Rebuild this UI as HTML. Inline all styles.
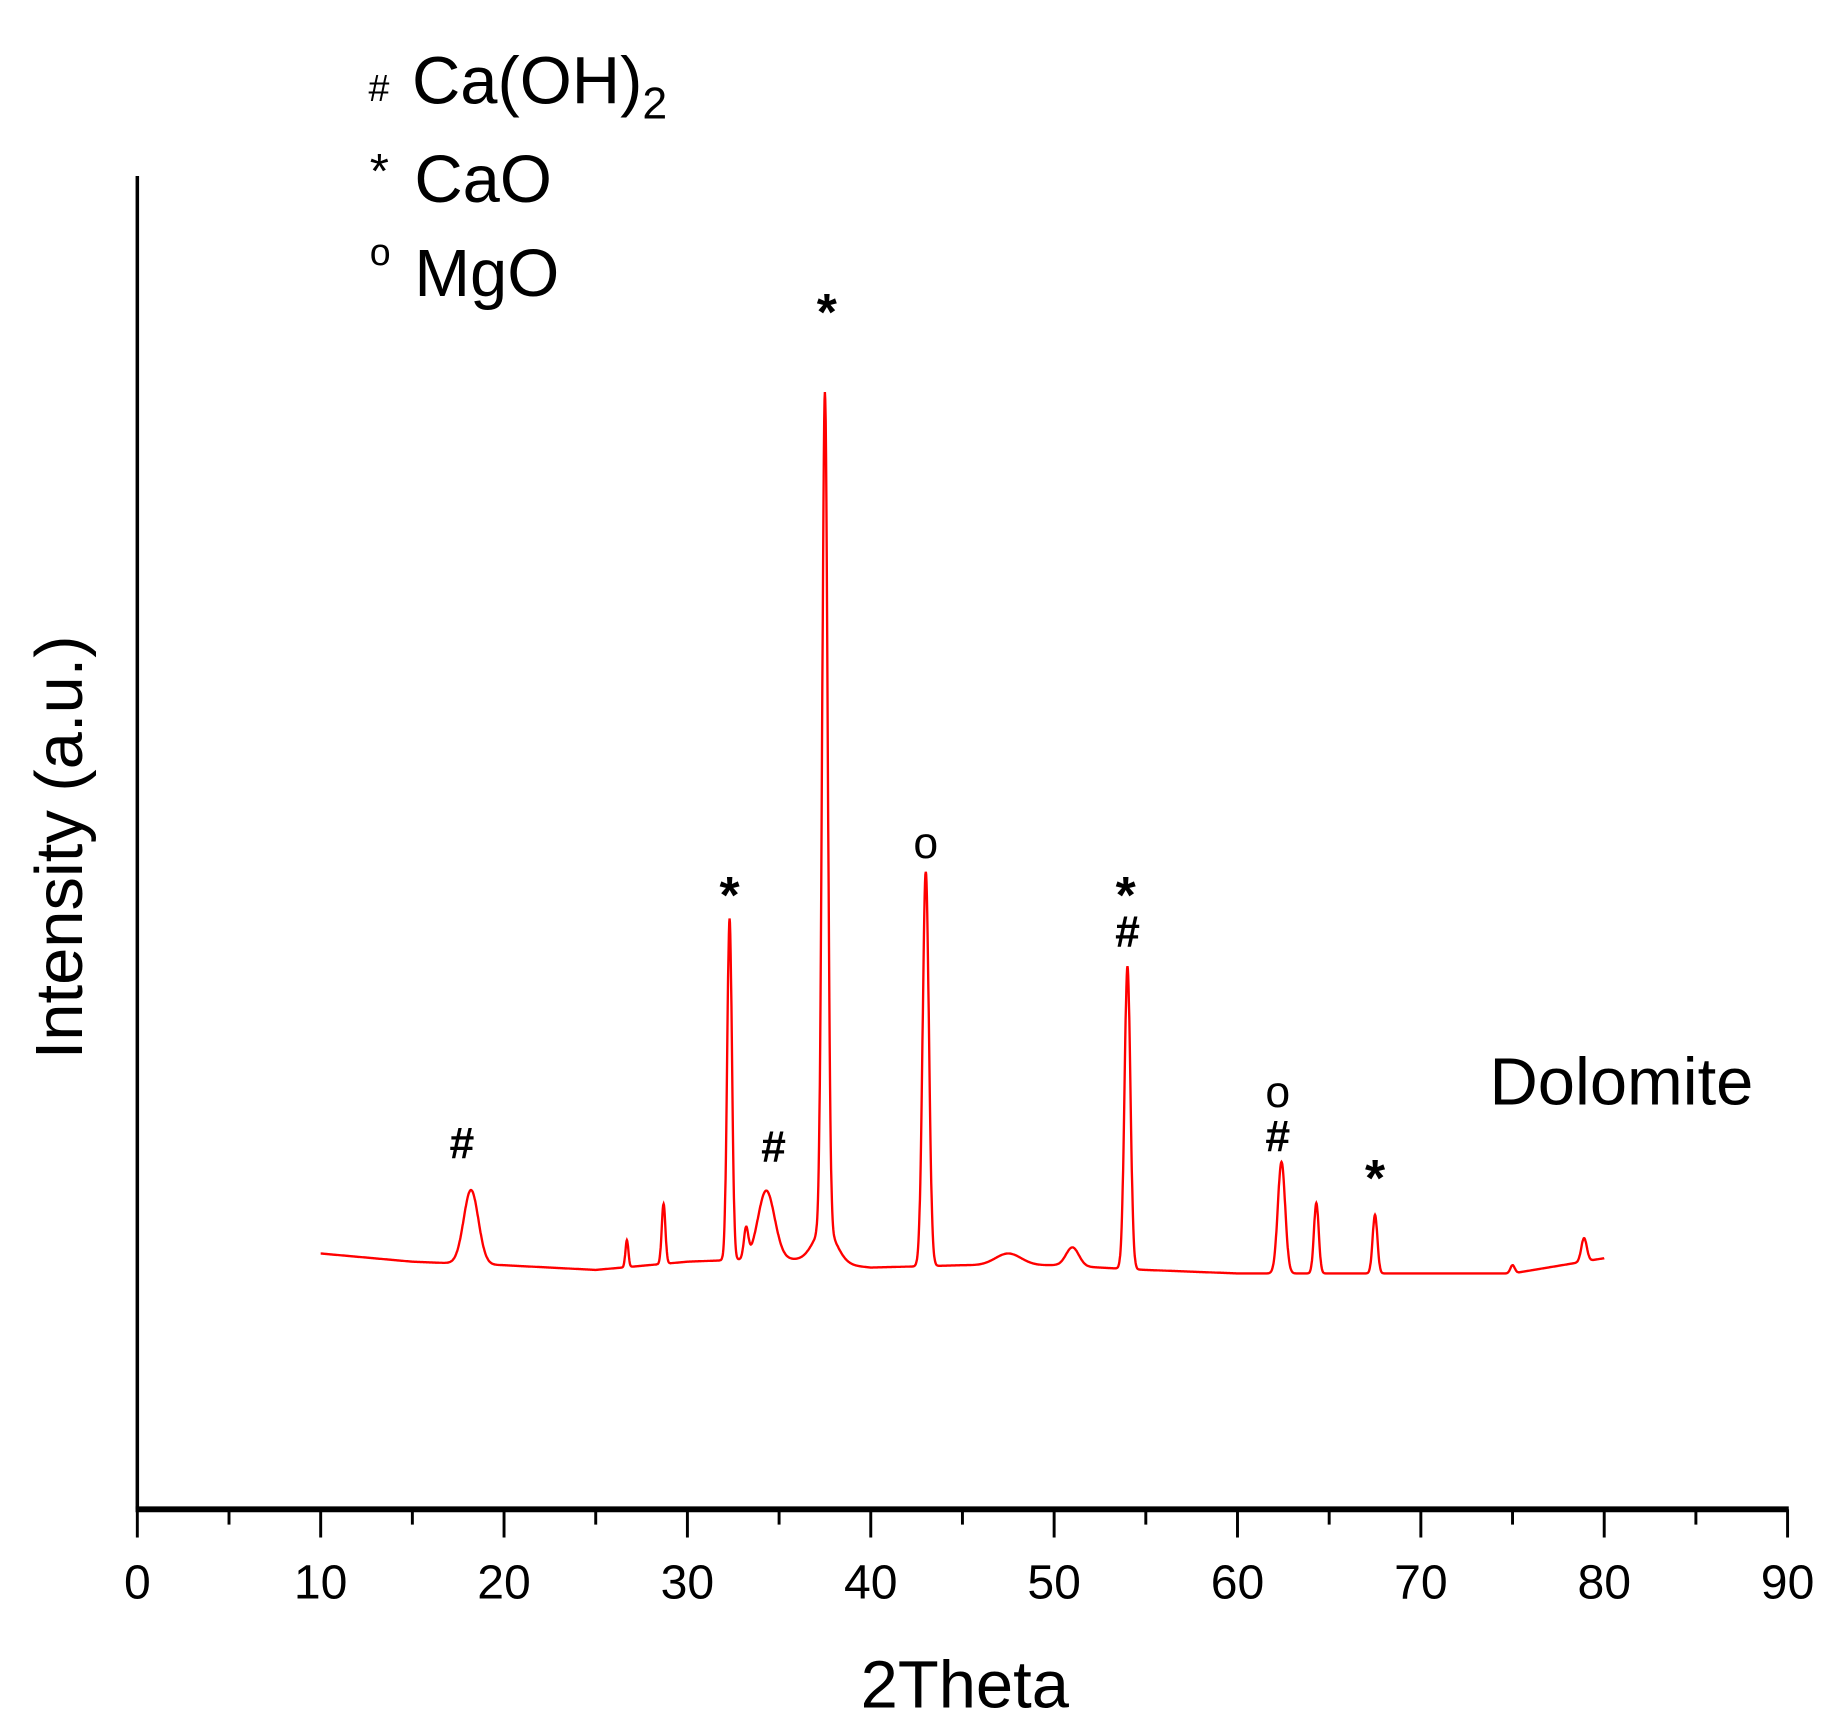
<!DOCTYPE html>
<html><head><meta charset="utf-8"><style>html,body{margin:0;padding:0;background:#fff}svg{display:block}</style></head>
<body>
<svg id="chart" width="1831" height="1730" viewBox="0 0 1560 1474" preserveAspectRatio="none" xmlns="http://www.w3.org/2000/svg" font-family="Liberation Sans, Arial, sans-serif">
<g id="axes"></g>
<path id="series" fill="none" stroke="#ff0000" stroke-width="2"/>
<g id="ann"></g>
<g fill="#000">
 <text x="314" y="86" font-size="32">#</text>
 <text x="351" y="88" font-size="57">Ca(OH)<tspan font-size="38" dy="13">2</tspan></text>
 <text x="315" y="160" font-size="42">*</text>
 <text x="353" y="172" font-size="57">CaO</text>
 <text x="315" y="226" font-size="32">o</text>
 <text x="353" y="252" font-size="57">MgO</text>
</g>
<text x="1269" y="941" font-size="57">Dolomite</text>
<text x="822" y="1455" font-size="57" text-anchor="middle">2Theta</text>
<text transform="translate(70,722) rotate(-90)" font-size="57" text-anchor="middle">Intensity (a.u.)</text>
</svg>
<script>
const xTicks=[0,10,20,30,40,50,60,70,80,90];
const baseX=[10,15,20,25,30,35,40,45,50,55,60,65,70,75,80];
const baseV=[218,211,208,204,211,214,206,208,208,204,201,201,201,201,214];
const peakPos=[18.2,26.7,28.7,32.3,33.2,34.3,37.5,37.5,43.0,47.5,51.0,54.0,62.4,64.3,67.5,75.0,78.9];
const peakH=[63,23,51,291,25,58,712,30,336,10,16,258,95,60,50,7,20];
const peakW=[0.4,0.08,0.1,0.13,0.12,0.45,0.15,0.6,0.17,0.7,0.35,0.16,0.2,0.13,0.13,0.12,0.15];
const annText=['*','*','#','#','o','*','#','o','#','*'];
const annX=[37.6,32.3,34.7,17.7,43.0,53.9,54.0,62.2,62.2,67.5];
const annV=[1032,535,310,313,569,535,493,357,319,294];

const X0=117,X1=1523,Y0=1286,YTOP=150;
const sx=v=>X0+(X1-X0)*v/90;
const sy=v=>Y0-v;
const NS='http://www.w3.org/2000/svg';
function mk(t,a,p){const e=document.createElementNS(NS,t);for(const k in a)e.setAttribute(k,a[k]);p.appendChild(e);return e;}
const axes=document.getElementById('axes');
let e=mk('line',{x1:X0,y1:YTOP,x2:X0,y2:Y0,stroke:'#000','stroke-width':3},axes);


e=mk('line',{x1:X0-1.5,y1:Y0,x2:X1+1,y2:Y0,stroke:'#000','stroke-width':5},axes);


for(let v=0;v<=90;v+=5){
 const major=v%10===0;
 e=mk('line',{x1:sx(v),y1:Y0,x2:sx(v),y2:Y0+(major?24:13),stroke:'#000','stroke-width':2.5},axes);
 
 
}
xTicks.forEach(v=>{
 const t=mk('text',{x:sx(v),y:1362,'font-size':41,'text-anchor':'middle'},axes);
 t.textContent=v;
 
 
});
function base(x){for(let i=0;i<baseX.length-1;i++){if(x<=baseX[i+1]){const f=(x-baseX[i])/(baseX[i+1]-baseX[i]);return baseV[i]+f*(baseV[i+1]-baseV[i]);}}return baseV[baseV.length-1];}
let d='';
for(let x=10;x<=80.001;x+=0.02){
 let v=base(x);
 for(let i=0;i<peakPos.length;i++){const z=(x-peakPos[i])/peakW[i];v+=peakH[i]*Math.exp(-0.5*z*z);}
 d+=(d?'L':'M')+sx(x).toFixed(1)+' '+sy(v).toFixed(1);
}
document.getElementById('series').setAttribute('d',d);
const ann=document.getElementById('ann');
annText.forEach((s,i)=>{
 const t=mk('text',{x:sx(annX[i]),y:sy(annV[i])+(s==='*'?27:14),'font-size':s==='*'?44:38,'font-weight':s==='o'?'normal':'bold','text-anchor':'middle'},ann);
 t.textContent=s;
 
 
});
</script>
</body></html>
